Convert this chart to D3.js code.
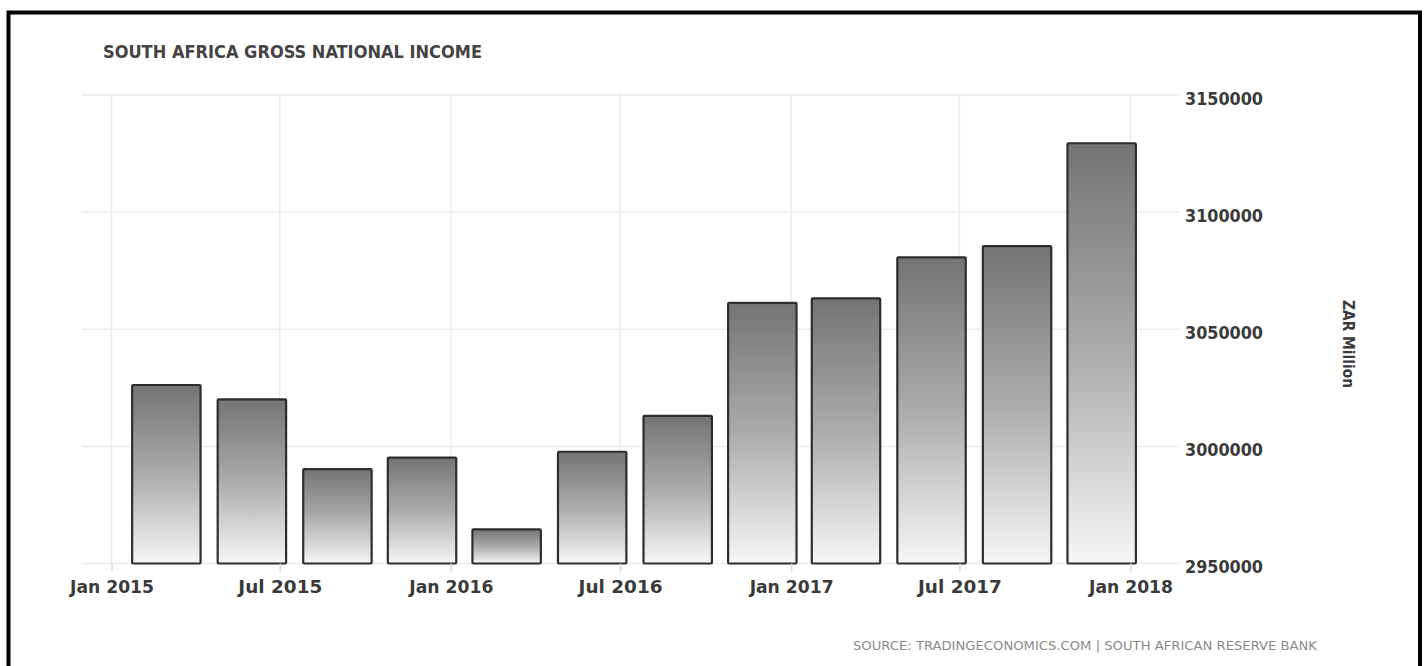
<!DOCTYPE html>
<html>
<head>
<meta charset="utf-8">
<script src="https://cdn.jsdelivr.net/npm/d3@7"></script>
<style>
  html, body { margin: 0; padding: 0; background: #fff; }
  svg { display: block; }
</style>
</head>
<body>
<svg id="chart" width="1427" height="666"></svg>
<script>
// ---- data ----
const categories = ["2015-03-01","2015-06-01","2015-09-01","2015-12-01",
                    "2016-03-01","2016-06-01","2016-09-01","2016-12-01",
                    "2017-03-01","2017-06-01","2017-09-01","2017-12-01"];
const values = [3026200, 3020100, 2990300, 2995200,
                2964600, 2997700, 3013000, 3061300,
                3063200, 3080700, 3085500, 3129400];
const yTicks = [2950000, 3000000, 3050000, 3100000, 3150000];
const xTickDates = ["2015-01-01","2015-07-01","2016-01-01","2016-07-01","2017-01-01","2017-07-01","2018-01-01"];
const xTickLabels = ["Jan 2015","Jul 2015","Jan 2016","Jul 2016","Jan 2017","Jul 2017","Jan 2018"];
const titleText = "SOUTH AFRICA GROSS NATIONAL INCOME";
const yAxisTitle = "ZAR Million";
const sourceText = "SOURCE: TRADINGECONOMICS.COM | SOUTH AFRICAN RESERVE BANK";

// ---- layout ----
const parse = d3.utcParse("%Y-%m-%d");
const plotLeft = 82, plotRight = 1180, plotTop = 93, plotBottom = 563.5;

const svg = d3.select("#chart");
const font = "'DejaVu Sans Condensed', 'DejaVu Sans', sans-serif";

const x = d3.scaleUtc()
  .domain([parse("2015-01-01"), parse("2018-01-01")])
  .range([111.5, 1130.5]);
const y = d3.scaleLinear()
  .domain([2950000, 3150000])
  .range([563.5, 95]);

// gradient
const defs = svg.append("defs");
const grad = defs.append("linearGradient")
  .attr("id", "barGrad").attr("x1", 0).attr("y1", 0).attr("x2", 0).attr("y2", 1);
grad.append("stop").attr("offset", "0%").attr("stop-color", "#747474");
grad.append("stop").attr("offset", "50%").attr("stop-color", "#ababab");
grad.append("stop").attr("offset", "100%").attr("stop-color", "#f6f6f6");

// gridlines
const grid = svg.append("g");
grid.selectAll("line.h").data(yTicks).join("line")
  .attr("x1", plotLeft).attr("x2", plotRight)
  .attr("y1", d => y(d)).attr("y2", d => y(d))
  .attr("stroke", "#ebebeb").attr("stroke-width", 1.5);
grid.selectAll("line.v").data(xTickDates).join("line")
  .attr("x1", d => x(parse(d))).attr("x2", d => x(parse(d)))
  .attr("y1", plotTop).attr("y2", plotBottom)
  .attr("stroke", "#ebebeb").attr("stroke-width", 1.5);

// bars
const step = x(parse(categories[1])) - x(parse(categories[0]));
const bw = step * 0.8;
svg.append("g").selectAll("rect").data(values).join("rect")
  .attr("x", (d, i) => x(parse(categories[i])) - bw / 2)
  .attr("width", bw)
  .attr("y", d => y(d))
  .attr("height", d => y(2950000) - y(d))
  .attr("rx", 1)
  .attr("fill", "url(#barGrad)")
  .attr("stroke", "#2e2e2e")
  .attr("stroke-width", 2.2);

// x axis
const xAxis = d3.axisBottom(x)
  .tickValues(xTickDates.map(parse))
  .tickFormat((d, i) => xTickLabels[i])
  .tickSize(8).tickPadding(8);
const gx = svg.append("g").attr("transform", `translate(0,${plotBottom})`).call(xAxis);
gx.select(".domain").remove();
gx.selectAll(".tick line").attr("stroke", "#d6d6d6").attr("stroke-width", 1.5);
gx.selectAll(".tick text")
  .attr("font-family", font).attr("font-size", 18.5).attr("font-weight", "bold").attr("fill", "#3a3a3a")
  .attr("textLength", 84).attr("lengthAdjust", "spacingAndGlyphs");

// y axis (right)
const yAxis = d3.axisRight(y).tickValues(yTicks).tickFormat(d3.format("d")).tickSize(0).tickPadding(5);
const gy = svg.append("g").attr("transform", `translate(${plotRight},0)`).call(yAxis);
gy.select(".domain").remove();
gy.selectAll(".tick text")
  .attr("font-family", font).attr("font-size", 18).attr("font-weight", "bold").attr("fill", "#3a3a3a")
  .attr("dy", "0.5em")
  .attr("textLength", 78).attr("lengthAdjust", "spacingAndGlyphs");

// y axis title
svg.append("text")
  .attr("transform", "translate(1343,344) rotate(90)")
  .attr("text-anchor", "middle")
  .attr("font-family", font).attr("font-size", 15).attr("font-weight", "bold").attr("fill", "#3a3a3a")
  .attr("textLength", 88).attr("lengthAdjust", "spacingAndGlyphs")
  .text(yAxisTitle);

// title
svg.append("text")
  .attr("x", 103).attr("y", 58)
  .attr("font-family", font).attr("font-size", 18).attr("font-weight", "bold").attr("fill", "#444")
  .attr("textLength", 379).attr("lengthAdjust", "spacingAndGlyphs")
  .text(titleText);

// source
svg.append("text")
  .attr("x", 853).attr("y", 650)
  .attr("font-family", font).attr("font-size", 13).attr("fill", "#8a8a8a")
  .attr("textLength", 464).attr("lengthAdjust", "spacingAndGlyphs")
  .text(sourceText);

// frame
svg.append("path")
  .attr("d", "M8.5,670 L8.5,12.5 L1420,12.5 L1420,670")
  .attr("fill", "none").attr("stroke", "#000").attr("stroke-width", 4);
</script>
</body>
</html>
